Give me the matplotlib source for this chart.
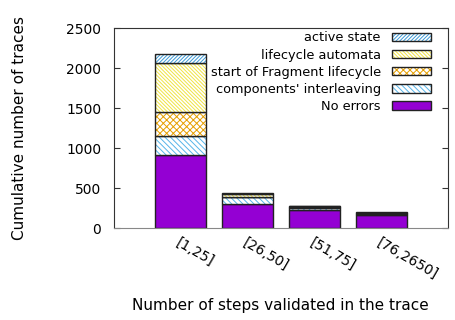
import matplotlib
matplotlib.use('Agg')
import matplotlib.pyplot as plt
import numpy as np
from matplotlib.patches import Patch
from matplotlib.legend_handler import HandlerTuple

plt.rcParams['font.family'] = ['DejaVu Sans']
plt.rcParams['hatch.linewidth'] = 0.7

categories = ['[1,25]', '[26,50]', '[51,75]', '[76,2650]']
no_errors = [915, 300, 230, 162]
interleaving = [240, 88, 25, 15]
fragment = [295, 8, 10, 10]
lifecycle = [615, 35, 10, 8]
active = [110, 5, 5, 5]

series = [
    ('No errors', no_errors, '#9400D3', None),
    ("components' interleaving", interleaving, '#56B4E9', '\\' * 6),
    ('start of Fragment lifecycle', fragment, '#E69F00', 'x' * 5),
    ('lifecycle automata', lifecycle, '#F0E442', '\\' * 9),
    ('active state', active, '#3C9AD6', '/' * 9),
]

fig = plt.figure(figsize=(4.55, 3.2), dpi=100)
ax = fig.add_axes([0.25, 0.2866, 0.7346, 0.625])

x = np.arange(len(categories))
w = 0.76
bottom = np.zeros(len(categories))
handles = []
for name, vals, col, hatch in series:
    vals = np.array(vals, dtype=float)
    if hatch is None:
        ax.bar(x, vals, w, bottom=bottom, color=col, edgecolor='#222222', linewidth=1.0)
        h = Patch(facecolor=col, edgecolor='#222222', linewidth=1.0)
    else:
        ax.bar(x, vals, w, bottom=bottom, facecolor='white', edgecolor=col, hatch=hatch, linewidth=0)
        ax.bar(x, vals, w, bottom=bottom, facecolor='none', edgecolor='#222222', linewidth=1.0)
        h = (Patch(facecolor='white', edgecolor=col, hatch=hatch, linewidth=0),
             Patch(facecolor='none', edgecolor='#222222', linewidth=1.0))
    handles.append((h, name))
    bottom += vals

ax.set_xlim(-1, 4)
ax.set_ylim(0, 2500)
ax.set_yticks([0, 500, 1000, 1500, 2000, 2500])
ax.tick_params(axis='y', direction='in', length=4, right=True, labelsize=10, color='#333333', pad=9)
ax.tick_params(axis='x', length=0, labelsize=10, pad=5)
ax.set_xticks(x)
ax.set_xticklabels(categories, rotation=-30, ha='left', va='top', rotation_mode='anchor')
for sp in ax.spines.values():
    sp.set_color('#333333')
ax.spines['bottom'].set_color('#888888')

ax.set_ylabel('Cumulative number of traces', fontsize=11, labelpad=28)
ax.set_xlabel('Number of steps validated in the trace', fontsize=11, labelpad=12)

hs = [h for h, n in handles][::-1]
ns = [n for h, n in handles][::-1]
ax.legend(hs, ns, loc='upper right', frameon=False, markerfirst=False, fontsize=9.3,
          handler_map={tuple: HandlerTuple(ndivide=1)}, handlelength=3.0, handleheight=0.65,
          handletextpad=0.9, labelspacing=0.32, borderaxespad=0.0, bbox_to_anchor=(0.965, 1.01))

fig.savefig('out.png', dpi=100)
